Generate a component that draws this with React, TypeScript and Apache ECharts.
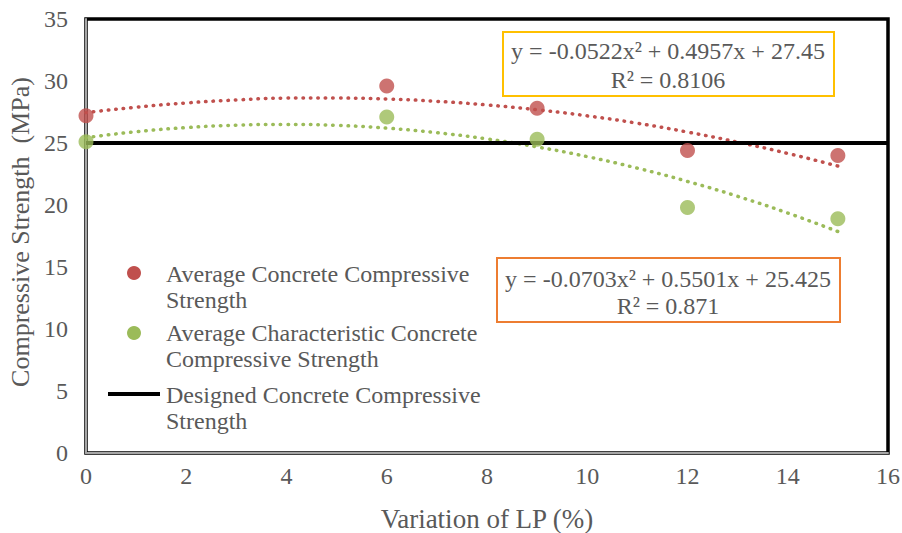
import React, { useEffect, useRef } from "react";
import * as echarts from "echarts";

const xValues = [0, 6, 9, 12, 15];
const avgStrength = [27.2, 29.6, 27.8, 24.4, 24.0];
const charStrength = [25.1, 27.1, 25.3, 19.8, 18.9];
const designX = [0, 16];
const designY = [25, 25];
const trendX = [0, 1, 2, 3, 4, 5, 6, 7, 8, 9, 10, 11, 12, 13, 14, 15];
const avgTrend = [27.45, 27.89, 28.23, 28.47, 28.62, 28.62, 28.55, 28.36, 28.07, 27.68, 27.19, 26.59, 25.88, 25.07, 24.16, 23.14];
const charTrend = [25.43, 25.91, 26.24, 26.44, 26.5, 26.42, 26.2, 25.83, 25.33, 24.68, 23.9, 22.97, 21.9, 20.7, 19.35, 17.86];
const legendNames = [
  "Average Concrete Compressive\nStrength",
  "Average Characteristic Concrete\nCompressive Strength",
  "Designed Concrete Compressive\nStrength",
];
const eq1 = ["y = -0.0522x² + 0.4957x + 27.45", "R² = 0.8106"];
const eq2 = ["y = -0.0703x² + 0.5501x + 25.425", "R² = 0.871"];

const RED = "#C0504D";
const GREEN = "#9BBB59";
const TXT = "#595959";
const FONT = "Liberation Serif";

export default function App() {
  const ref = useRef<HTMLDivElement>(null);
  useEffect(() => {
    const chart = echarts.init(ref.current!, null, { renderer: "svg" });
    const pair = (xs: number[], ys: number[]) => xs.map((x, i) => [x, ys[i]]);
    const textStyle = { fontFamily: FONT, fontSize: 24, fill: TXT };
    chart.setOption({
      animation: false,
      backgroundColor: "#fff",
      textStyle: { fontFamily: FONT },
      grid: {
        left: 86, top: 19, width: 802, height: 434,
        outerBoundsMode: "none", containLabel: false,
        show: true, borderColor: "#000", borderWidth: 3.5, backgroundColor: "transparent",
      },
      xAxis: {
        type: "value", min: 0, max: 16, interval: 2,
        name: "Variation of LP (%)", nameLocation: "middle", nameGap: 52,
        nameTextStyle: { fontFamily: FONT, fontSize: 27, color: TXT },
        axisLine: { show: true, lineStyle: { color: "#A6A6A6", width: 2 } },
        axisTick: { show: false },
        axisLabel: { fontFamily: FONT, fontSize: 24, color: TXT, margin: 11 },
        splitLine: { show: false },
      },
      yAxis: {
        type: "value", min: 0, max: 35, interval: 5,
        name: "Compressive Strength  (MPa)", nameLocation: "middle", nameGap: 52,
        nameTextStyle: { fontFamily: FONT, fontSize: 26, color: TXT, padding: [0, 0, 0, 8] },
        axisLine: { show: true, lineStyle: { color: "#A6A6A6", width: 2 } },
        axisTick: { show: false },
        axisLabel: { fontFamily: FONT, fontSize: 24, color: TXT, margin: 18 },
        splitLine: { show: false },
      },
      series: [
        {
          type: "line", data: pair(trendX, avgTrend), smooth: true, symbol: "none",
          lineStyle: { color: RED, width: 3.5, type: [0.5, 7], cap: "round" }, z: 2,
        },
        {
          type: "line", data: pair(trendX, charTrend), smooth: true, symbol: "none",
          lineStyle: { color: GREEN, width: 3.5, type: [0.5, 7], cap: "round" }, z: 2,
        },
        {
          type: "line", data: pair(designX, designY), symbol: "none",
          lineStyle: { color: "#000", width: 4 }, z: 3,
        },
        {
          type: "scatter", data: pair(xValues, avgStrength), symbolSize: 15,
          itemStyle: { color: RED }, z: 4,
        },
        {
          type: "scatter", data: pair(xValues, charStrength), symbolSize: 15,
          itemStyle: { color: GREEN }, z: 4,
        },
      ],
      graphic: [
        { type: "circle", shape: { cx: 134, cy: 273, r: 7 }, style: { fill: RED }, z: 10 },
        { type: "circle", shape: { cx: 134, cy: 333, r: 7 }, style: { fill: GREEN }, z: 10 },
        { type: "line", shape: { x1: 108, y1: 394, x2: 160, y2: 394 }, style: { stroke: "#000", lineWidth: 4 }, z: 10 },
        { type: "text", x: 166, y: 261, style: { ...textStyle, text: legendNames[0], lineHeight: 26 }, z: 10 },
        { type: "text", x: 166, y: 320, style: { ...textStyle, text: legendNames[1], lineHeight: 26 }, z: 10 },
        { type: "text", x: 166, y: 382, style: { ...textStyle, text: legendNames[2], lineHeight: 26 }, z: 10 },
        {
          type: "rect", shape: { x: 503, y: 32, width: 331, height: 64 },
          style: { fill: "#fff", stroke: "#FFC000", lineWidth: 2 }, z: 10,
        },
        {
          type: "text", x: 668, y: 36.5,
          style: { ...textStyle, text: eq1.join("\n"), lineHeight: 29, textAlign: "center" }, z: 11,
        },
        {
          type: "rect", shape: { x: 497, y: 258, width: 343, height: 64 },
          style: { fill: "#fff", stroke: "#ED7D31", lineWidth: 2 }, z: 10,
        },
        {
          type: "text", x: 668, y: 265.5,
          style: { ...textStyle, text: eq2.join("\n"), lineHeight: 27, textAlign: "center" }, z: 11,
        },
      ],
    });
    return () => chart.dispose();
  }, []);
  return <div ref={ref} style={{ width: 902, height: 533, position: "absolute", left: 0, top: 0 }} />;
}
